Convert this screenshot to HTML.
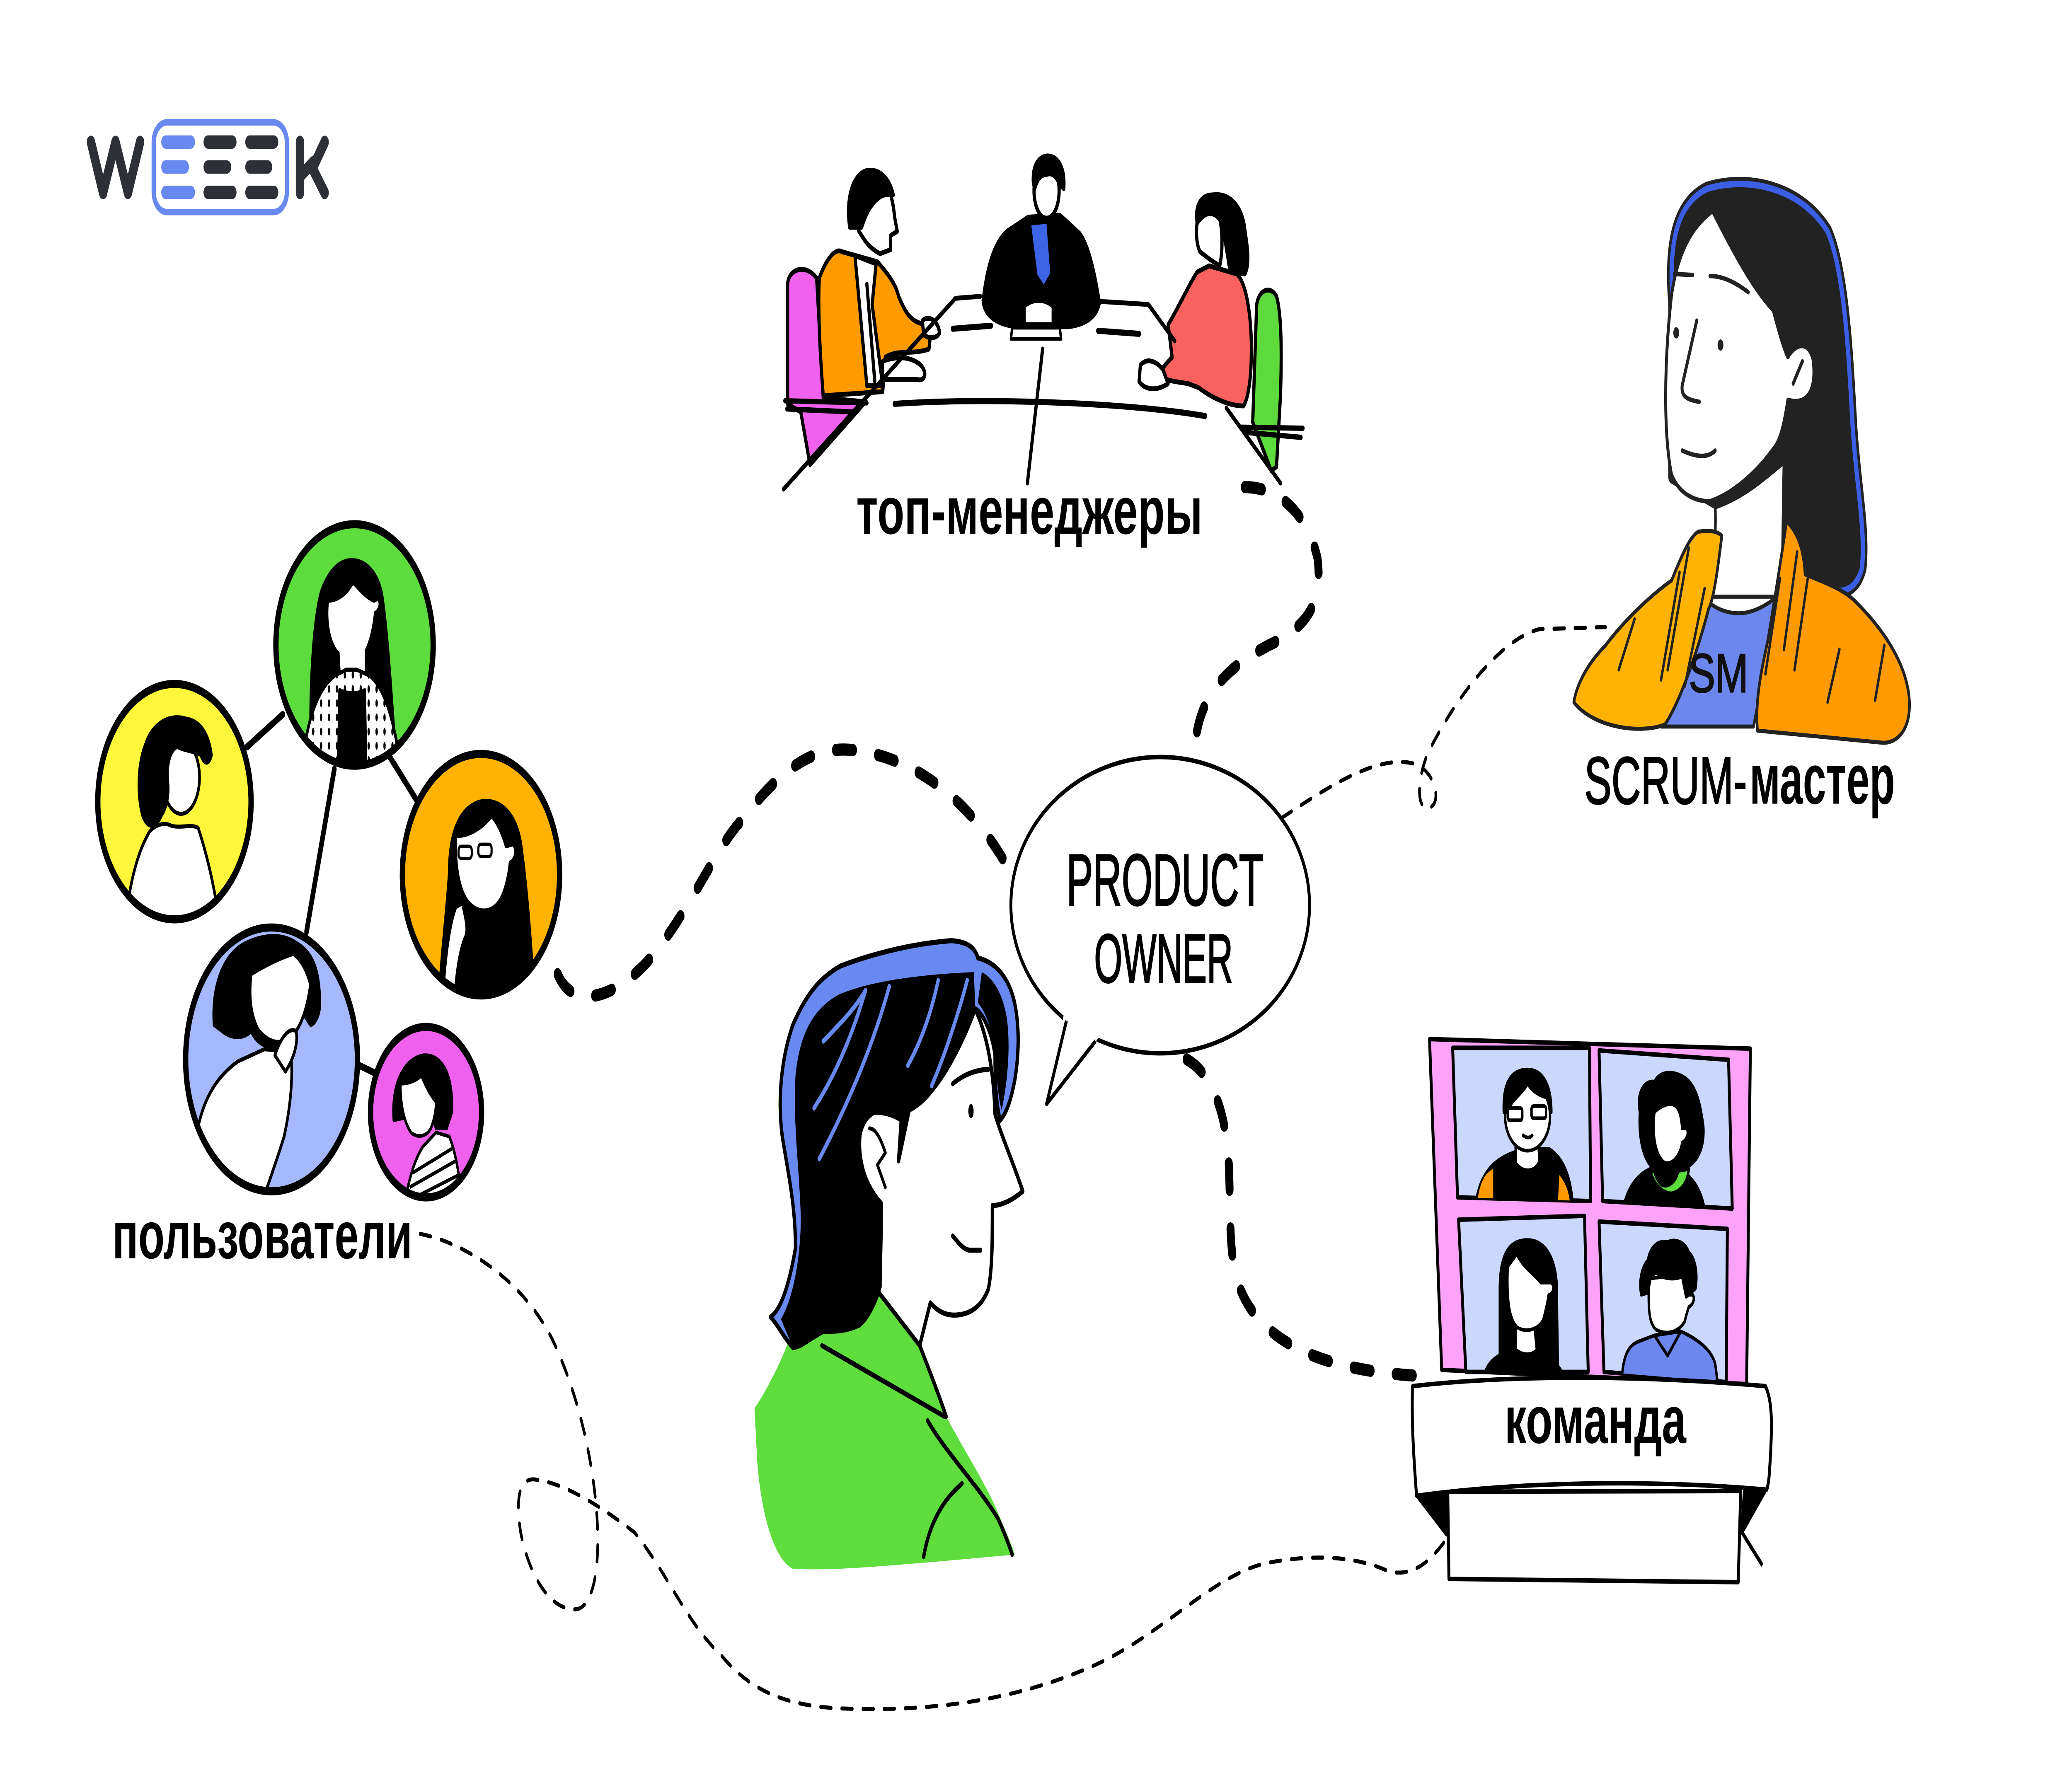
<!DOCTYPE html>
<html><head><meta charset="utf-8">
<style>
html,body{margin:0;padding:0;background:#fff;width:100%;height:100%;overflow:hidden;}
svg{display:block;position:absolute;left:0;top:0;width:100vw;height:100vh;}
</style></head>
<body>
<svg xmlns="http://www.w3.org/2000/svg" viewBox="0 0 1568 882" preserveAspectRatio="none">
<defs>
<pattern id="dots" width="6" height="7" patternUnits="userSpaceOnUse">
<rect width="6" height="7" fill="#fff"/>
<ellipse cx="3" cy="3.5" rx="0.9" ry="1.9" fill="#000"/>
</pattern>
<clipPath id="cG"><circle cx="268.3" cy="317.8" r="59"/></clipPath>
<clipPath id="cY"><circle cx="132" cy="395" r="57"/></clipPath>
<clipPath id="cO"><circle cx="364" cy="431" r="59"/></clipPath>
<clipPath id="cL"><circle cx="205.5" cy="522" r="64.5"/></clipPath>
<clipPath id="cP"><circle cx="322.4" cy="548" r="41"/></clipPath>
<clipPath id="w1"><polygon points="1099.3,516.3 1202.8,516.3 1203.7,591.8 1103,590"/></clipPath>
<clipPath id="w2"><polygon points="1210.1,517.6 1308.1,522.2 1310.9,595.5 1212.8,591.8"/></clipPath>
<clipPath id="w3"><polygon points="1103.8,601 1199.1,599.1 1201.9,676 1109.3,676"/></clipPath>
<clipPath id="w4"><polygon points="1210.1,601.9 1307.2,605.5 1306.3,681 1213.8,676"/></clipPath>
</defs>
<rect width="1568" height="882" fill="#fff"/>

<!-- LOGO -->
<g fill="none" stroke="#2E3038" stroke-width="6.3" stroke-linecap="round" stroke-linejoin="round">
<polyline points="68.8,70 78,95 87.4,70 96.8,95 106,70"/>
<line x1="227" y1="70" x2="227" y2="95"/>
<polyline points="245.7,70 236.5,83 245.7,95"/>
<line x1="227" y1="87" x2="237" y2="80"/>
</g>
<rect x="116.3" y="60.3" width="100.8" height="44.2" rx="10" fill="none" stroke="#6889F0" stroke-width="3.2"/>
<g fill="#6889F0">
<rect x="122" y="66.7" width="25.6" height="6.6" rx="3.3"/>
<rect x="122" y="79" width="21" height="6.6" rx="3.3"/>
<rect x="122" y="91.5" width="25.6" height="6.6" rx="3.3"/>
</g>
<g fill="#2E3038">
<rect x="154" y="66.7" width="25" height="6.6" rx="3.3"/>
<rect x="185.6" y="66.7" width="25" height="6.6" rx="3.3"/>
<rect x="154" y="79" width="21" height="6.6" rx="3.3"/>
<rect x="185.6" y="79" width="20.4" height="6.6" rx="3.3"/>
<rect x="154" y="91.5" width="25" height="6.6" rx="3.3"/>
<rect x="185.6" y="91.5" width="25" height="6.6" rx="3.3"/>
</g>

<!-- DASHED CONNECTORS (thick) -->
<g fill="none" stroke="#000" stroke-width="6" stroke-linecap="round" stroke-dasharray="13 19">
<path d="M422,480 C435,500 470,490 495,470 C525,445 540,420 560,405 C590,380 615,366 650,370 C700,375 740,400 765,430"/>
<path d="M942,240 C970,240 990,255 997,275 C1002,300 985,310 960,318 C925,330 905,345 904,372"/>
<path d="M898,522 C915,528 928,545 930,575 C932,610 928,630 950,648 C975,668 1020,676 1075,678"/>
</g>
<!-- thin dashed -->
<g fill="none" stroke="#000" stroke-width="2" stroke-linecap="round" stroke-dasharray="8 8">
<path d="M970,403 C1000,390 1040,372 1068,376 C1085,378 1092,395 1082,398 C1072,400 1072,385 1080,372 C1100,345 1135,315 1165,310 L1215,309"/>
<path d="M318,608 C350,612 395,630 418,660 C440,690 450,725 452,750 C454,775 448,793 435,793 C415,793 400,775 394,755 C390,738 393,728 405,729 C430,731 460,745 480,755 C505,775 520,800 545,815 C570,835 600,842 650,842 C720,843 780,835 830,820 C880,805 920,775 960,770 C1000,765 1030,768 1050,774 C1070,778 1085,768 1098,755"/>
</g>

<!-- TOP MANAGERS -->
<g stroke="#000" stroke-width="2.4" stroke-linecap="round" stroke-linejoin="round">
<path d="M596,140 C597,132 610,130 618,137 L623,196 L655,198 L613,229 L606,203 L596,199 Z" fill="#F062EE"/>
<path d="M951,150 C953,142 962,141 966,146 C970,155 970,175 969,195 L966,230 L962,232 L948,208 Z" fill="#5EDB3C"/>
<path d="M620,137 C625,128 632,122 637,124 L664,129 C672,135 678,140 680,146 C686,155 690,160 705,160 L703,172 C690,175 680,172 670,176 L668,193 L623,195 C620,170 619,150 620,137 Z" fill="#FF9A00"/>
<path d="M647,126 L663,130 L660,150 L668,190 L656,190 Z" fill="#fff"/>
<line x1="656" y1="140" x2="662" y2="188" />
<path d="M647,96 C650,88 660,86 668,89 C674,93 676,100 677,107 L679,114 L674,116 L674,123 L666,125 C660,123 656,120 654,118 L650,114 Z" fill="#fff"/>
<path d="M643,112 C640,98 645,86 656,84 C666,83 673,88 676,96 C670,95 664,97 660,101 C657,103 654,108 652,112 Z" fill="#000"/>
<path d="M668,178 C680,175 690,176 697,180 C702,184 700,188 694,187 L668,187 Z" fill="#fff"/>
<path d="M698,158 C703,155 710,158 711,164 C709,167 703,167 699,165 Z" fill="#fff"/>
<path d="M744,148 C747,132 752,120 762,114 L778,107 L802,106 L817,115 C825,122 829,138 832,149 C830,156 822,160 808,161 L770,161 C755,160 745,156 744,148 Z" fill="#000"/>
<path d="M779,110 L793,109 L796,135 L790,142 L784,136 Z" fill="#3D63E6"/>
<ellipse cx="792" cy="94" rx="9.5" ry="13.5" fill="#fff"/>
<path d="M782,90 C781,80 788,76 795,77 C802,78 806,84 805,93 L802,91 C799,86 795,85 792,86 C788,86 785,88 783,93 Z" fill="#000"/>
<path d="M775,151 C781,147 791,147 797,151 L797,160 L775,160 Z" fill="#fff"/>
<polygon points="766,161.5 802,161.5 803,167 765,167" fill="#fff" stroke-width="1.8"/>
<path d="M884,160 C893,150 900,140 906,134 L915,131 L936,135 C944,140 947,158 947,172 C947,185 945,196 941,200 C930,200 917,196 907,191 L899,189 C888,188 878,187 876,184 L887,176 Z" fill="#FA625F"/>
<path d="M909,101 C905,108 904,118 908,124 L916,128 L923,131 C926,122 925,110 921,103 Z" fill="#fff"/>
<path d="M906,110 C904,101 909,96 918,96 C930,95 940,101 942,113 C944,122 946,130 942,135 L931,134 C929,127 927,115 923,108 C918,104 912,104 906,110 Z" fill="#000"/>
<path d="M863,180 C868,176 875,178 880,182 L884,189 C875,193 866,192 862,188 Z" fill="#fff"/>
<path d="M593,241 L723,147 L742,146" fill="none"/>
<path d="M832,148.5 L869,150 L889,168" fill="none"/>
<path d="M928,201 L969,238" fill="none"/>
<path d="M677,199 C740,196 850,198 912,205" fill="none" stroke-width="3"/>
<path d="M721,162 L750,160.5" fill="none" stroke-width="3"/>
<path d="M831,163 L862,164.5" fill="none" stroke-width="3"/>
<path d="M789,172 L777.5,238" fill="none"/>
<path d="M594,197.5 L656,198.5 M595.5,201.5 L645,203" fill="none" stroke-width="2.6"/>
<path d="M939,210.5 L986,211 M942,213 L984.5,215.5" fill="none" stroke-width="2.6"/>
</g>
<text x="648" y="263" font-family="Liberation Sans, sans-serif" font-weight="bold" font-size="33" textLength="262" lengthAdjust="spacingAndGlyphs" fill="#000">топ-менеджеры</text>

<!-- SCRUM MASTER -->
<g stroke-linecap="round" stroke-linejoin="round">
<path d="M1266,150 C1262,118 1270,100 1292,93 C1322,87 1362,92 1383,114 C1396,134 1399,175 1402,210 C1405,240 1412,262 1409,280 C1405,290 1396,292 1387,291 L1357,284 C1354,270 1352,262 1348,257 L1340,245 L1300,248 L1266,235 Z" fill="#222" stroke="#222" stroke-width="7"/>
<path d="M1266,150 C1262,118 1270,100 1292,93 C1322,87 1362,92 1383,114 C1396,134 1399,175 1402,210 C1405,240 1412,262 1409,280 C1405,290 1396,292 1387,291" fill="none" stroke="#3A5FE5" stroke-width="3.2"/>
<path d="M1298,250 C1320,245 1335,236 1350,228 L1349,270 L1344,294 L1291,294 C1296,280 1299,265 1298,250 Z" fill="#fff" stroke="#222" stroke-width="2"/>
<path d="M1290,294 C1295,300 1310,303 1320,302 C1330,301 1340,297 1346,293 L1327,358 L1257,358 C1270,340 1282,315 1290,294 Z" fill="#6C87EE" stroke="#222" stroke-width="2"/>
<path d="M1191,346 C1193,338 1200,328 1215,318 C1230,305 1250,293 1265,286 C1272,275 1278,265 1285,262 C1295,261 1300,262 1303,264 C1300,280 1297,295 1293,300 C1285,320 1272,345 1260,357 C1240,362 1205,358 1191,346 Z" fill="#FFB300" stroke="#222" stroke-width="2"/>
<path d="M1352,257 C1360,262 1365,270 1366,283 C1380,287 1395,290 1405,297 C1425,310 1440,325 1444,340 C1448,355 1440,366 1425,366 L1330,360 C1328,345 1333,330 1338,315 C1343,295 1348,275 1352,257 Z" fill="#FF9A00" stroke="#222" stroke-width="2"/>
<g stroke="#222" stroke-width="1.8" fill="none">
<path d="M1237,305 L1225,330 M1271,282 L1257,335 M1278,270 L1262,330 M1290,290 L1275,338 M1347,285 L1336,332 M1360,272 L1350,320 M1368,285 L1358,330 M1392,320 L1383,346 M1426,318 L1419,345"/>
</g>
<path d="M1265,145 C1270,124 1280,112 1296,104 C1310,122 1326,142 1342,153 C1346,163 1350,172 1353,176 C1358,170 1368,167 1372,177 C1375,192 1368,200 1353,197 C1350,210 1347,218 1341,222 C1330,232 1312,243 1294,247 C1280,247 1270,242 1265,234 C1259,215 1259,180 1265,145 Z" fill="#fff" stroke="#222" stroke-width="2.2"/>
<g stroke="#222" fill="none" stroke-width="2.2">
<path d="M1267,135 L1281,135.5"/>
<path d="M1294,136 C1305,136 1315,140 1323,144"/>
<path d="M1284,158 L1273,190 C1272,196 1278,197 1286,198"/>
<path d="M1273,222 C1283,225 1292,226 1298,222"/>
<path d="M1364,178 L1357,189"/>
</g>
<ellipse cx="1268.5" cy="164" rx="2.2" ry="2.8" fill="#222"/>
<ellipse cx="1302" cy="170" rx="2.2" ry="2.8" fill="#222"/>
</g>
<text x="1278" y="341" font-family="Liberation Sans, sans-serif" font-size="27" textLength="45" lengthAdjust="spacingAndGlyphs" fill="#111" stroke="#111" stroke-width="0.6">SM</text>
<text x="1199" y="396" font-family="Liberation Sans, sans-serif" font-size="33" textLength="123" lengthAdjust="spacingAndGlyphs" fill="#000" stroke="#000" stroke-width="0.6">SCRUM-</text>
<text x="1324" y="396" font-family="Liberation Sans, sans-serif" font-weight="bold" font-size="35" textLength="110" lengthAdjust="spacingAndGlyphs" fill="#000">мастер</text>

<!-- USERS -->
<g stroke="#000" stroke-width="3.5" stroke-linecap="round" fill="none">
<line x1="214" y1="352" x2="187" y2="368"/>
<line x1="295" y1="373" x2="315" y2="394"/>
<line x1="253" y1="379" x2="232" y2="459"/>
<line x1="272" y1="525" x2="283" y2="528.5"/>
</g>
<circle cx="268.3" cy="317.8" r="59" fill="#5CDD3D"/>
<g clip-path="url(#cG)" stroke="#000" stroke-width="2" stroke-linejoin="round">
<path d="M236,378 C233,340 238,300 244,290 C250,280 258,276 266,276 C278,276 286,283 289,293 C293,310 296,340 300,378 Z" fill="#000"/>
<path d="M248,296 C246,308 250,318 256,322 C262,328 270,328 276,322 C281,316 283,308 284,302 C287,301 289,297 286,295 L283,296 C276,294 272,290 267,287 C262,293 255,296 248,296 Z" fill="#fff"/>
<path d="M256,322 L257,334 L277,334 L277,320" fill="#fff"/>
<path d="M228,380 C232,355 240,340 253,333 L262,330 L270,330 L280,333 C292,340 298,355 304,380 Z" fill="url(#dots)"/>
<path d="M256,380 L257,340 C262,342 272,342 276,340 L277,380 Z" fill="#000"/>
</g>
<circle cx="268.3" cy="317.8" r="59.5" fill="none" stroke="#000" stroke-width="4"/>
<circle cx="132" cy="395" r="57.5" fill="#FDF63A"/>
<g clip-path="url(#cY)" stroke="#000" stroke-width="2" stroke-linejoin="round">
<path d="M95,455 C98,435 104,420 113,410 C118,406 125,405 130,407 C138,408 146,406 150,408 C156,420 162,435 166,455 Z" fill="#fff"/>
<ellipse cx="137" cy="383" rx="14" ry="18" fill="#fff"/>
<path d="M108,402 C103,390 105,375 110,367 C116,355 130,352 140,354 C152,355 158,362 160,372 C158,378 154,376 152,372 C146,370 140,370 134,368 C128,370 126,378 127,385 C128,392 126,398 122,402 C118,408 112,409 108,402 Z" fill="#000"/>
</g>
<circle cx="132" cy="395" r="58" fill="none" stroke="#000" stroke-width="4"/>
<circle cx="364" cy="431" r="59" fill="#FFB200"/>
<g clip-path="url(#cO)" stroke="#000" stroke-width="2" stroke-linejoin="round">
<path d="M332,495 C334,470 338,450 340,430 C340,410 348,398 363,395 C378,393 392,400 395,420 C400,445 402,470 405,495 Z" fill="#000"/>
<path d="M345,412 C344,428 348,440 355,445 C362,450 372,450 378,444 C382,440 385,432 386,425 C390,424 392,418 388,416 L383,417 C380,410 376,405 372,402 C365,408 355,412 345,412 Z" fill="#fff"/>
<rect x="347" y="417" width="10" height="6" rx="2" fill="none" stroke-width="1.6"/>
<rect x="362" y="416" width="10" height="6" rx="2" fill="none" stroke-width="1.6"/>
<path d="M335,495 C336,475 340,455 345,447 L350,445 C352,452 355,458 352,462 C348,468 345,480 344,495 Z" fill="#fff"/>
</g>
<circle cx="364" cy="431" r="59.5" fill="none" stroke="#000" stroke-width="4"/>
<circle cx="205.5" cy="522" r="64.5" fill="#A6B8FC"/>
<g clip-path="url(#cL)" stroke="#000" stroke-width="2" stroke-linejoin="round">
<path d="M140,600 L150,555 C155,540 165,530 180,523 L200,517 L220,518 C222,530 220,545 215,560 C208,575 200,588 195,600 Z" fill="#fff"/>
<path d="M162,505 C160,485 170,470 185,465 C200,460 215,460 225,465 C238,470 242,480 242,495 C242,500 238,505 235,505 L230,500 C225,505 222,512 215,515 C205,518 195,515 190,508 C185,512 175,512 168,508 Z" fill="#000"/>
<path d="M190,480 C188,492 190,500 195,507 C202,513 210,515 218,512 C228,508 233,495 235,485 C232,478 228,473 222,470 C212,472 200,476 190,480 Z" fill="#fff"/>
<path d="M208,520 C212,512 218,506 224,508 C226,514 222,522 216,528 Z" fill="#fff"/>
</g>
<circle cx="205.5" cy="522" r="65" fill="none" stroke="#000" stroke-width="4"/>
<circle cx="322.4" cy="548" r="41.5" fill="#F060EF"/>
<g clip-path="url(#cP)" stroke="#000" stroke-width="1.8" stroke-linejoin="round">
<path d="M306,595 C309,580 315,570 320,565 L330,558 L340,560 C345,568 348,580 350,595 Z" fill="#fff"/>
<path d="M312,578 L342,566 M310,585 L345,572 M308,592 L347,579" fill="none"/>
<path d="M298,552 C296,535 305,522 320,520 C335,519 343,530 342,548 L338,556 L330,556 L326,548 Z" fill="#000"/>
<path d="M303,534 C303,545 306,553 311,558 C316,561 323,560 326,556 C328,553 330,548 330,543 C326,540 322,535 319,530 C314,533 308,534 303,534 Z" fill="#fff"/>
</g>
<circle cx="322.4" cy="548" r="42" fill="none" stroke="#000" stroke-width="4"/>
<text x="85" y="620" font-family="Liberation Sans, sans-serif" font-weight="bold" font-size="33" textLength="227" lengthAdjust="spacingAndGlyphs" fill="#000">пользователи</text>

<!-- PRODUCT OWNER person -->
<g stroke-linecap="round" stroke-linejoin="round">
<path d="M571,694 C585,680 595,665 600,655 L665,636 L696,663 C705,678 712,690 716,698 C730,715 745,730 755,745 C760,753 765,760 768,766 L700,770 C660,772 630,774 600,773 C585,768 576,745 573,720 Z" fill="#5EDD3C"/>
<path d="M696,663 C705,678 712,690 716,698 M702,700 C715,715 740,732 755,748 C760,755 764,762 766,766" fill="none" stroke="#000" stroke-width="2.5"/>
<path d="M622,663 L715,698" fill="none" stroke="#000" stroke-width="2.5"/>
<path d="M699,767 C703,752 712,740 728,731" fill="none" stroke="#000" stroke-width="2.5"/>
<path d="M737,496 C748,510 752,530 753,549 C758,560 768,575 774,587 C765,592 757,594 751,594 C751,610 751,625 748,635 C742,646 730,648 722,648 C714,648 708,645 704,642 L696,663 L664,636 L662,590 C652,580 648,565 652,555 C656,548 664,546 672,548 Z" fill="#fff" stroke="#000" stroke-width="2.5"/>
<path d="M583,649 C592,645 598,630 602,615 C602,595 597,580 592,560 C588,540 592,520 600,505 C610,490 620,482 636,476 C660,470 690,465 720,463.5 C732,464 738,467 740,472 C752,474 762,480 767,492 C772,505 771,520 768,532 C765,542 762,548 757,552 C754,545 753,535 753,520 C751,510 745,500 738,497 C732,508 720,525 708,535 C700,542 694,545 688,547 L680,572 L682,552 C676,549 668,548 662,548 C655,550 650,556 650,565 C651,575 656,585 667,593 C667,610 666,625 666,634 C662,643 656,650 650,653 C640,656 632,656 623,656 C612,660 605,664 600,664 C592,658 588,652 583,649 Z" fill="#6889F0" stroke="#000" stroke-width="2.5"/>
<path d="M591,650 C600,640 606,620 606,600 C605,575 600,555 602,530 C605,510 615,497 635,490 C660,483 700,480 737,479 L738,497 C732,508 720,525 708,535 C700,542 694,545 688,547 L680,572 L682,552 C676,549 668,548 662,548 C655,550 650,556 650,565 C651,575 656,585 667,593 C667,610 666,625 666,634 C662,643 656,650 650,653 C640,656 632,656 623,656 C612,660 605,664 600,664 Z" fill="#000"/>
<path d="M743,479 C752,482 759,490 762,502 C765,517 762,535 758,547 C755,540 754,528 753,518 C750,505 745,498 740,494 Z" fill="#000"/>
<g stroke="#6889F0" stroke-width="2.5" fill="none">
<path d="M616,546 C632,530 645,510 655,488"/>
<path d="M620,571 C645,540 662,512 673,486"/>
<path d="M623,513 C635,505 647,497 655,488"/>
<path d="M687,525 C698,512 705,498 710,483"/>
<path d="M705,535 C715,520 725,500 732,483"/>
</g>
<path d="M658,556 C663,556 667,562 670,568 L664,574 L670,585" fill="none" stroke="#000" stroke-width="2"/>
<path d="M721,534 C730,529 740,527 748,527" fill="none" stroke="#000" stroke-width="2.5"/>
<ellipse cx="734.8" cy="547.5" rx="2" ry="3.5" fill="#000"/>
<path d="M721,609 C726,613 730,616 734,616 L742,616" fill="none" stroke="#000" stroke-width="2.5"/>
</g>

<!-- SPEECH BUBBLE -->
<ellipse cx="878" cy="446" rx="113" ry="73" fill="#fff" stroke="#000" stroke-width="2.2"/>
<polygon points="805,500 792,544 833,510" fill="#fff"/>
<polyline points="807,503 792,544 829,513" fill="none" stroke="#000" stroke-width="2.2" stroke-linejoin="round"/>
<text x="807" y="446" font-family="Liberation Sans, sans-serif" font-size="36" textLength="149" lengthAdjust="spacingAndGlyphs" fill="#000" stroke="#000" stroke-width="0.7">PRODUCT</text>
<text x="828" y="484" font-family="Liberation Sans, sans-serif" font-size="34" textLength="105" lengthAdjust="spacingAndGlyphs" fill="#000" stroke="#000" stroke-width="0.7">OWNER</text>

<!-- TEAM -->
<g stroke="#000" stroke-width="2.2" stroke-linejoin="round">
<polygon points="1081.8,512 1324.6,516.7 1321.8,682 1091,675" fill="#FCA2F8"/>
<polygon points="1099.3,516.3 1202.8,516.3 1203.7,591.8 1103,590" fill="#CCD7FD"/>
<polygon points="1210.1,517.6 1308.1,522.2 1310.9,595.5 1212.8,591.8" fill="#CCD7FD"/>
<polygon points="1103.8,601 1199.1,599.1 1201.9,676 1109.3,676" fill="#CCD7FD"/>
<polygon points="1210.1,601.9 1307.2,605.5 1306.3,681 1213.8,676" fill="#CCD7FD"/>
</g>
<g stroke="#000" stroke-width="1.8" stroke-linejoin="round">
<g clip-path="url(#w1)">
<path d="M1117,592 C1120,580 1128,572 1145,568 L1152,566 L1172,566 C1182,570 1188,578 1190,592 Z" fill="#000"/>
<path d="M1118,592 C1120,582 1124,578 1130,576 L1130,592 Z" fill="#FF9A00" stroke="none"/>
<path d="M1180,579 C1185,583 1187,587 1188,592 L1179,592 Z" fill="#FF9A00" stroke="none"/>
<path d="M1147,564 L1147,573 C1152,578 1162,578 1165,572 L1164,562 Z" fill="#fff"/>
<ellipse cx="1156" cy="550" rx="17" ry="17" fill="#fff"/>
<path d="M1138,548 C1137,532 1145,527 1156,527 C1167,527 1174,534 1174,548 L1172,541 C1165,540 1160,538 1156,534 C1152,539 1145,541 1140,548 Z" fill="#000"/>
<rect x="1141" y="546" width="11" height="6" rx="1.5" fill="none"/>
<rect x="1159" y="545" width="11" height="6" rx="1.5" fill="none"/>
<path d="M1152,559 C1155,561 1158,561 1160,559" fill="none"/>
</g>
<g clip-path="url(#w2)">
<path d="M1228,596 C1232,584 1240,578 1252,575 L1270,575 C1280,580 1287,585 1290,596 Z" fill="#000"/>
<path d="M1241,548 C1238,538 1245,532 1252,533 C1256,528 1265,527 1275,531 C1284,535 1287,545 1289,555 C1290,565 1285,572 1277,575 L1250,575 C1243,570 1240,560 1241,548 Z" fill="#000"/>
<path d="M1252,548 C1250,560 1253,570 1260,573 C1267,574 1272,568 1273,563 C1276,562 1279,558 1276,556 L1273,556 C1272,548 1270,545 1265,544 C1260,544 1255,546 1252,548 Z" fill="#fff"/>
<path d="M1249,577 C1252,585 1260,588 1265,588 C1272,587 1277,583 1278,576 L1270,577 C1268,583 1262,585 1258,584 C1254,582 1252,578 1252,577 Z" fill="#5EDB3C"/>
</g>
<g clip-path="url(#w3)">
<path d="M1135,678 L1135,635 C1135,615 1145,611 1156,611 C1167,611 1176,617 1178,632 L1179,678 Z" fill="#000"/>
<path d="M1123,678 C1126,670 1135,667 1146,665 L1163,665 C1172,668 1180,672 1183,678 Z" fill="#000"/>
<path d="M1147,652 L1147,665 C1152,668 1160,668 1163,665 L1161,652 Z" fill="#fff"/>
<path d="M1141,624 C1140,640 1142,650 1148,654 C1155,657 1165,655 1168,650 C1170,645 1171,642 1172,638 C1175,638 1177,634 1174,632 L1166,632 C1160,627 1153,625 1148,618 Z" fill="#fff"/>
</g>
<g clip-path="url(#w4)">
<path d="M1227,682 C1228,668 1232,663 1240,661 L1252,658 L1272,656 C1285,660 1295,665 1298,672 L1300,682 Z" fill="#6C87EE"/>
<path d="M1248,630 C1247,645 1248,652 1253,655 C1260,658 1270,657 1275,651 C1276,648 1277,646 1278,644 C1281,643 1283,640 1281,638 L1276,638 L1273,628 Z" fill="#fff"/>
<path d="M1242,638 C1240,630 1243,624 1247,621 C1249,614 1255,611 1262,612 C1268,610 1275,612 1278,617 C1283,620 1285,628 1283,635 L1276,639 L1273,629 C1266,631 1258,630 1253,627 L1249,630 L1247,637 Z" fill="#000"/>
<path d="M1252,658 L1262,668 L1272,656" fill="none"/>
</g>
</g>
<g stroke="#000" stroke-width="2.2" stroke-linejoin="round">
<polygon points="1095.6,735 1317.3,734.7 1315.4,779.6 1096.5,778" fill="#fff"/>
<polygon points="1071.8,736.5 1095.6,735.6 1094.7,756" fill="#000"/>
<polygon points="1336.5,733.8 1320,734.7 1318.2,755" fill="#000"/>
<line x1="1318.2" y1="755" x2="1333.7" y2="771.3"/>
<path d="M1069,683 C1150,677 1250,678 1336,683 C1341,690 1341,700 1340,715 C1339,725 1339,730 1337,734 C1250,729 1150,730 1072,737 C1070,720 1068,700 1069,683 Z" fill="#fff"/>
</g>
<text x="1138.6" y="711" font-family="Liberation Sans, sans-serif" font-weight="bold" font-size="33" textLength="137.4" lengthAdjust="spacingAndGlyphs" fill="#000">команда</text>
</svg>
</body></html>
